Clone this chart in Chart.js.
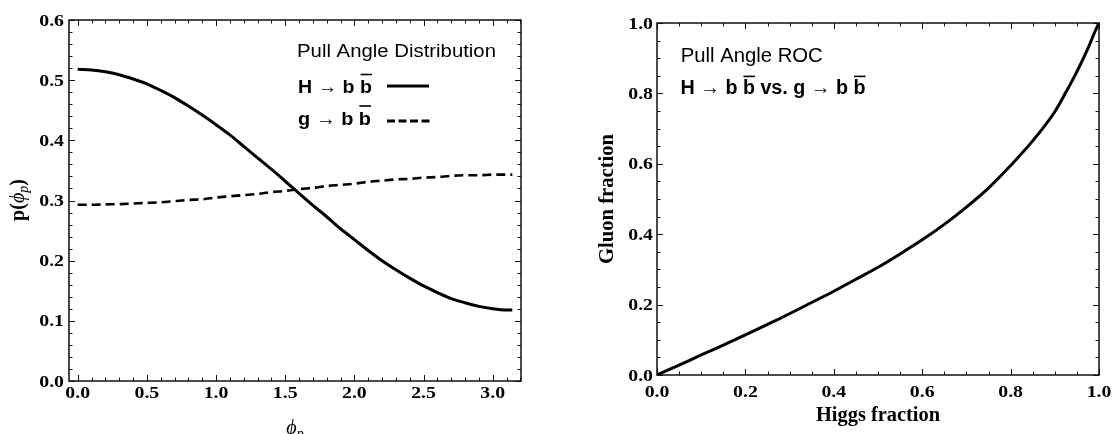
<!DOCTYPE html>
<html>
<head>
<meta charset="utf-8">
<script src="https://cdn.jsdelivr.net/npm/chart.js@4.4.1/dist/chart.umd.min.js"></script>
<style>
  html, body { margin: 0; padding: 0; background: #fff; }
  #wrap { position: relative; width: 1113px; height: 434px; overflow: hidden; }
  .panel { position: absolute; top: 0; height: 434px; }
  #pull-panel { left: 0; width: 540px; }
  #roc-panel  { left: 540px; width: 573px; }
</style>
</head>
<body>
<div id="wrap">
  <div class="panel" id="pull-panel"><canvas id="pullChart"></canvas></div>
  <div class="panel" id="roc-panel"><canvas id="rocChart"></canvas></div>
</div>
<script>
// ─── Data ─────────────────────────────────────────────
const phiValues = [0, 0.1, 0.2, 0.3, 0.4, 0.5, 0.6, 0.7, 0.8, 0.9, 1.0, 1.1, 1.2, 1.3, 1.4, 1.5,
                   1.6, 1.7, 1.8, 1.9, 2.0, 2.1, 2.2, 2.3, 2.4, 2.5, 2.6, 2.7, 2.8, 2.9, 3.0, 3.1, 3.1416]
const higgsPdf  = [0.518, 0.517, 0.514, 0.509, 0.502, 0.494, 0.483, 0.471, 0.457, 0.442, 0.426, 0.409,
                   0.390, 0.371, 0.352, 0.332, 0.312, 0.292, 0.273, 0.253, 0.235, 0.217, 0.200, 0.185,
                   0.171, 0.158, 0.147, 0.137, 0.130, 0.124, 0.120, 0.118, 0.118]
const gluonPdf  = [0.293, 0.293, 0.2935, 0.294, 0.295, 0.296, 0.297, 0.299, 0.301, 0.302, 0.305, 0.307,
                   0.309, 0.311, 0.314, 0.316, 0.319, 0.321, 0.324, 0.326, 0.328, 0.331, 0.333, 0.335,
                   0.336, 0.338, 0.339, 0.341, 0.342, 0.342, 0.343, 0.343, 0.343]

const higgsFrac = [0, 0.05, 0.1, 0.15, 0.2, 0.25, 0.3, 0.35, 0.4, 0.45, 0.5, 0.55, 0.6, 0.65, 0.7,
                   0.75, 0.8, 0.85, 0.9, 0.925, 0.95, 0.975, 0.99, 1.0]
const gluonFrac = [0, 0.028, 0.057, 0.085, 0.114, 0.144, 0.174, 0.206, 0.238, 0.272, 0.306, 0.344,
                   0.384, 0.428, 0.477, 0.531, 0.595, 0.665, 0.748, 0.803, 0.862, 0.928, 0.973, 1.0]

const pullXTicks = [0, 0.5, 1.0, 1.5, 2.0, 2.5, 3.0]
const pullYTicks = [0, 0.1, 0.2, 0.3, 0.4, 0.5, 0.6]
const rocTicks   = [0, 0.2, 0.4, 0.6, 0.8, 1.0]

// ─── Shared styles ────────────────────────────────────
const SANS       = '"Liberation Sans", Arial, sans-serif'
const SERIF      = '"Liberation Serif", "Times New Roman", serif'
const TICK_FONT  = `bold 16.5px ${SERIF}`
const TICK_SX    = 1.2

function axis(min, max, values, fit) {
  return {
    type: 'linear', min, max,
    afterBuildTicks: s => { s.ticks = values.map(v => ({ value: v })) },
    afterFit: fit,
    grid: { display: false, drawTicks: false },
    border: { display: false },
    ticks: { display: false, autoSkip: false }
  }
}

// ─── Text helpers ─────────────────────────────────────
function stretchText(ctx, str, x, y, font, sx, align) {
  ctx.font = font
  const w = ctx.measureText(str).width * sx
  const x0 = align === 'right' ? x - w : align === 'center' ? x - w / 2 : x
  ctx.save()
  ctx.translate(x0, y)
  ctx.scale(sx, 1)
  ctx.textAlign = 'left'
  ctx.fillText(str, 0, 0)
  ctx.restore()
}

function fitText(ctx, str, x, y, font, width, bars = [], rise = 18) {
  ctx.font = font
  const sx = width / ctx.measureText(str).width
  ctx.save()
  ctx.translate(x, y)
  ctx.scale(sx, 1)
  ctx.fillText(str, 0, 0)
  ctx.lineWidth = 1.6
  bars.forEach(i => {
    const x0 = ctx.measureText(str.slice(0, i)).width
    const w  = ctx.measureText(str[i]).width
    ctx.beginPath()
    ctx.moveTo(x0 + 0.5, -rise)
    ctx.lineTo(x0 + w, -rise)
    ctx.stroke()
  })
  ctx.restore()
}

function runs(ctx, pieces, x, y, align) {
  let total = 0
  pieces.forEach(p => { ctx.font = p.font; total += ctx.measureText(p.t).width })
  let cx = align === 'center' ? x - total / 2 : x
  pieces.forEach(p => {
    ctx.font = p.font
    ctx.fillText(p.t, cx, y + (p.dy || 0))
    cx += ctx.measureText(p.t).width
  })
}

// ─── Frame, inward ticks on all four sides, tick labels ──
const frameTicks = {
  id: 'frameTicks',
  beforeDatasetsDraw(chart, args, opts) {
    const { ctx, chartArea: a, scales: { x, y } } = chart
    ctx.save()
    ctx.strokeStyle = '#111'
    ctx.fillStyle = '#000'
    ctx.lineWidth = 1
    const marks = (scale, step) => {
      const out = []
      const k0 = Math.ceil(scale.min / step - 1e-6), k1 = Math.floor(scale.max / step + 1e-6)
      for (let k = k0; k <= k1; k++) out.push(k * step)
      return out
    }
    const isMajor = (scale, v) => scale.ticks.some(t => Math.abs(t.value - v) < 1e-6)
    ctx.beginPath()
    marks(x, opts.xStep).forEach(v => {
      const px = Math.round(x.getPixelForValue(v)) + 0.5
      const len = isMajor(x, v) ? 6 : 3.5
      ctx.moveTo(px, a.bottom); ctx.lineTo(px, a.bottom - len)
      ctx.moveTo(px, a.top);    ctx.lineTo(px, a.top + len)
    })
    marks(y, opts.yStep).forEach(v => {
      const py = Math.round(y.getPixelForValue(v)) + 0.5
      const len = isMajor(y, v) ? 6 : 3.5
      ctx.moveTo(a.left, py);  ctx.lineTo(a.left + len, py)
      ctx.moveTo(a.right, py); ctx.lineTo(a.right - len, py)
    })
    ctx.stroke()
    ctx.lineWidth = 1.5
    ctx.strokeRect(a.left, a.top, a.right - a.left, a.bottom - a.top)

    ctx.textBaseline = 'alphabetic'
    x.ticks.forEach(t => {
      stretchText(ctx, t.value.toFixed(1), x.getPixelForValue(t.value), a.bottom + opts.xLabelDy,
                  TICK_FONT, TICK_SX, 'center')
    })
    y.ticks.forEach(t => {
      stretchText(ctx, t.value.toFixed(1), a.left - opts.yLabelDx, y.getPixelForValue(t.value) + 5.5,
                  TICK_FONT, TICK_SX, 'right')
    })
    ctx.restore()
  }
}

const pullText = {
  id: 'pullText',
  afterDraw(chart) {
    const ctx = chart.ctx
    ctx.save()
    ctx.fillStyle = '#000'
    ctx.strokeStyle = '#000'
    ctx.textBaseline = 'alphabetic'
    ctx.textAlign = 'left'
    fitText(ctx, 'Pull Angle Distribution', 297, 57, `17.5px ${SANS}`, 199)
    fitText(ctx, 'H \u2192 b b', 298, 93, `bold 18.5px ${SANS}`, 74, [6], 18.5)
    fitText(ctx, 'g \u2192 b b', 298, 124.5, `bold 18.5px ${SANS}`, 73, [6], 18.5)

    ctx.lineWidth = 3
    ctx.beginPath(); ctx.moveTo(387, 86); ctx.lineTo(429, 86); ctx.stroke()
    ctx.setLineDash([8, 3.5])
    ctx.beginPath(); ctx.moveTo(387, 121); ctx.lineTo(430, 121); ctx.stroke()
    ctx.setLineDash([])

    // y title p(ϕp)
    ctx.save()
    ctx.translate(24, 200)
    ctx.rotate(-Math.PI / 2)
    runs(ctx, [
      { t: 'p(', font: `bold 20px ${SERIF}` },
      { t: '\u03d5', font: `italic 20px ${SERIF}` },
      { t: 'p', font: `italic 14px ${SERIF}`, dy: 4 },
      { t: ')', font: `bold 20px ${SERIF}` }
    ], 0, 0, 'center')
    ctx.restore()

    // x title ϕp
    runs(ctx, [
      { t: '\u03d5', font: `italic 20px ${SERIF}` },
      { t: 'p', font: `italic 14px ${SERIF}`, dy: 4 }
    ], 295, 434, 'center')
    ctx.restore()
  }
}

const rocText = {
  id: 'rocText',
  afterDraw(chart) {
    const ctx = chart.ctx
    ctx.save()
    ctx.fillStyle = '#000'
    ctx.strokeStyle = '#000'
    ctx.textBaseline = 'alphabetic'
    ctx.textAlign = 'left'
    fitText(ctx, 'Pull Angle ROC', 140.7, 61.7, `20px ${SANS}`, 142)
    fitText(ctx, 'H \u2192 b b vs. g \u2192 b b', 140.5, 94, `bold 20px ${SANS}`, 185, [6, 18], 17.6)

    ctx.save()
    ctx.translate(73, 199)
    ctx.rotate(-Math.PI / 2)
    fitText(ctx, 'Gluon fraction', -65, 0, `bold 20px ${SERIF}`, 130)
    ctx.restore()

    fitText(ctx, 'Higgs fraction', 276, 421, `bold 20px ${SERIF}`, 124)
    ctx.restore()
  }
}

// ─── Left: pull angle distribution ────────────────────
new Chart(document.getElementById('pullChart'), {
  type: 'scatter',
  data: {
    datasets: [
      {
        label: 'H \u2192 b b\u0305',
        data: phiValues.map((x, i) => ({ x, y: higgsPdf[i] })),
        showLine: true, borderColor: '#000', borderWidth: 3, pointRadius: 0,
        cubicInterpolationMode: 'monotone'
      },
      {
        label: 'g \u2192 b b\u0305',
        data: phiValues.map((x, i) => ({ x, y: gluonPdf[i] })),
        showLine: true, borderColor: '#000', borderWidth: 2.6, pointRadius: 0,
        borderDash: [9, 5], cubicInterpolationMode: 'monotone'
      }
    ]
  },
  options: {
    responsive: true,
    maintainAspectRatio: false,
    animation: false,
    layout: { padding: { top: 20, right: 19, left: 0, bottom: 0 } },
    plugins: {
      legend: { display: false },
      tooltip: { enabled: false },
      frameTicks: { xStep: 0.1, yStep: 0.02, xLabelDy: 17, yLabelDx: 5 }
    },
    scales: {
      x: axis(-0.0628, 3.2044, pullXTicks, s => { s.height = 53 }),
      y: axis(0, 0.6, pullYTicks, s => { s.width = 69 })
    }
  },
  plugins: [frameTicks, pullText]
})

// ─── Right: ROC curve ─────────────────────────────────
new Chart(document.getElementById('rocChart'), {
  type: 'scatter',
  data: {
    datasets: [{
      label: 'ROC',
      data: higgsFrac.map((x, i) => ({ x, y: gluonFrac[i] })),
      showLine: true, borderColor: '#000', borderWidth: 3, pointRadius: 0,
      cubicInterpolationMode: 'monotone'
    }]
  },
  options: {
    responsive: true,
    maintainAspectRatio: false,
    animation: false,
    layout: { padding: { top: 23, right: 14, left: 0, bottom: 0 } },
    plugins: {
      legend: { display: false },
      tooltip: { enabled: false },
      frameTicks: { xStep: 0.05, yStep: 0.05, xLabelDy: 21.5, yLabelDx: 4 }
    },
    scales: {
      x: axis(0, 1, rocTicks, s => { s.height = 59 }),
      y: axis(0, 1, rocTicks, s => { s.width = 117 })
    }
  },
  plugins: [frameTicks, rocText]
})
</script>
</body>
</html>
